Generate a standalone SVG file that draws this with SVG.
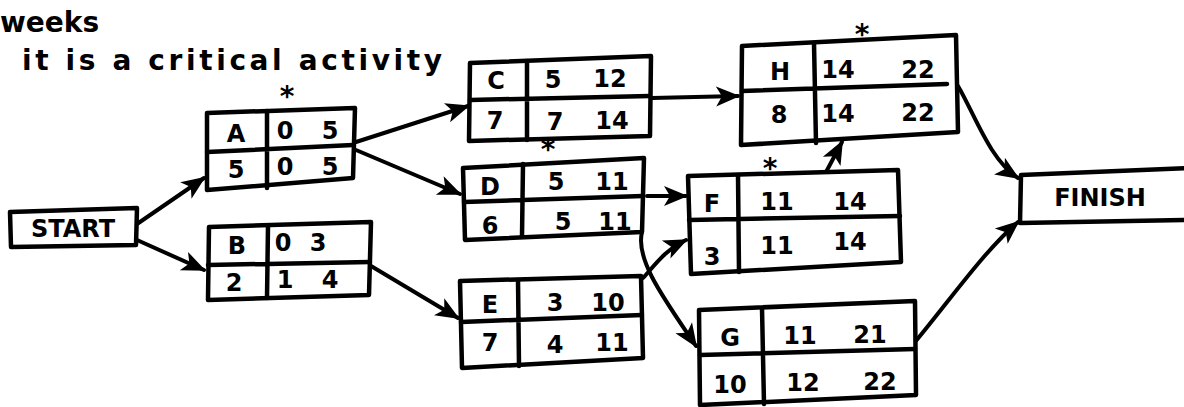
<svg xmlns="http://www.w3.org/2000/svg" width="1184" height="407" viewBox="0 0 1184 407">
<style>
.box{fill:#fff;stroke:#000;stroke-width:4.5;stroke-linejoin:round}
.ln{fill:none;stroke:#000;stroke-width:4.5;stroke-linecap:round}
.edge{fill:none;stroke:#000;stroke-width:4;stroke-linecap:round}
text{font-family:"DejaVu Sans","Liberation Sans",sans-serif;font-weight:bold;fill:#000}
.t{font-size:24px;text-anchor:middle}
.note{font-size:28px}
.star{font-size:28px;text-anchor:middle}
</style>
<defs>
<marker id="ah" viewBox="0 0 12 10" refX="11" refY="5" markerWidth="6" markerHeight="6" orient="auto" markerUnits="strokeWidth">
<path d="M0,0 L12,5 L0,10 L3,5 Z" fill="#000"/>
</marker>
</defs>
<rect width="1184" height="407" fill="#fff"/>
<text class="note" x="0" y="32">weeks</text>
<text class="note" x="22" y="70" textLength="420" lengthAdjust="spacing">it is a critical activity</text>

<g id="connectors">
<path class="edge" d="M137,224 L204,178" marker-end="url(#ah)"/>
<path class="edge" d="M137,240 L204,270" marker-end="url(#ah)"/>
<path class="edge" d="M356,142 L468,106" marker-end="url(#ah)"/>
<path class="edge" d="M356,150 L460,194" marker-end="url(#ah)"/>
<path class="edge" d="M371,266 L458,318" marker-end="url(#ah)"/>
<path class="edge" d="M652,98 L738,96" marker-end="url(#ah)"/>
<path class="edge" d="M647,196 L686,196" marker-end="url(#ah)"/>
<path class="edge" d="M642,232 C635,260 665,300 696,346" marker-end="url(#ah)"/>
<path class="edge" d="M643,278 C655,265 665,250 686,240" marker-end="url(#ah)"/>
<path class="edge" d="M825,174 L842,142" marker-end="url(#ah)"/>
<path class="edge" d="M958,86 C975,115 990,160 1018,178" marker-end="url(#ah)"/>
<path class="edge" d="M915,342 C950,300 985,250 1018,222" marker-end="url(#ah)"/>
</g>

<g id="start">
<path class="box" d="M10,212 L137,208 L136,245 L11,247 Z"/>
<text class="t" x="73" y="237">START</text>
</g>

<g id="A">
<path class="box" d="M207,113 L355,108 L353,178 L207,190 Z"/>
<path class="ln" d="M267,111 L267,188 M207,152 L353,145"/>
<text class="star" x="287" y="106">*</text>
<text class="t" x="236" y="142">A</text>
<text class="t" x="285" y="139">0</text>
<text class="t" x="330" y="139">5</text>
<text class="t" x="236" y="178">5</text>
<text class="t" x="285" y="175">0</text>
<text class="t" x="330" y="175">5</text>
</g>

<g id="B">
<path class="box" d="M209,227 L371,222 L369,295 L208,300 Z"/>
<path class="ln" d="M268,226 L267,298 M208,265 L370,262"/>
<text class="t" x="237" y="254">B</text>
<text class="t" x="283" y="251">0</text>
<text class="t" x="318" y="251">3</text>
<text class="t" x="234" y="291">2</text>
<text class="t" x="285" y="288">1</text>
<text class="t" x="330" y="288">4</text>
</g>

<g id="C">
<path class="box" d="M470,63 L651,56 L650,136 L469,141 Z"/>
<path class="ln" d="M527,61 L527,140 M470,100 L650,96"/>
<text class="t" x="496" y="89">C</text>
<text class="t" x="553" y="88">5</text>
<text class="t" x="610" y="87">12</text>
<text class="t" x="495" y="129">7</text>
<text class="t" x="555" y="130">7</text>
<text class="t" x="612" y="129">14</text>
</g>

<g id="D">
<path class="box" d="M463,168 L644,158 L642,232 L465,240 Z"/>
<path class="ln" d="M523,164 L522,236 M464,202 L643,196"/>
<text class="star" x="548" y="159">*</text>
<text class="t" x="490" y="195">D</text>
<text class="t" x="556" y="190">5</text>
<text class="t" x="612" y="190">11</text>
<text class="t" x="490" y="234">6</text>
<text class="t" x="563" y="230">5</text>
<text class="t" x="615" y="230">11</text>
</g>

<g id="E">
<path class="box" d="M460,281 L641,276 L643,358 L462,368 Z"/>
<path class="ln" d="M518,280 L519,366 M461,322 L642,315"/>
<text class="t" x="490" y="313">E</text>
<text class="t" x="555" y="311">3</text>
<text class="t" x="608" y="311">10</text>
<text class="t" x="490" y="351">7</text>
<text class="t" x="555" y="353">4</text>
<text class="t" x="612" y="351">11</text>
</g>

<g id="H">
<path class="box" d="M742,46 L956,35 L958,132 L741,145 Z"/>
<path class="ln" d="M814,43 L816,143 M742,91 L947,84"/>
<text class="star" x="862" y="44">*</text>
<text class="t" x="780" y="80">H</text>
<text class="t" x="838" y="78">14</text>
<text class="t" x="918" y="78">22</text>
<text class="t" x="779" y="123">8</text>
<text class="t" x="838" y="122">14</text>
<text class="t" x="918" y="121">22</text>
</g>

<g id="F">
<path class="box" d="M688,176 L898,170 L901,262 L691,274 Z"/>
<path class="ln" d="M738,175 L739,272 M689,220 L900,216"/>
<text class="star" x="770" y="178">*</text>
<text class="t" x="712" y="212">F</text>
<text class="t" x="777" y="210">11</text>
<text class="t" x="850" y="210">14</text>
<text class="t" x="712" y="265">3</text>
<text class="t" x="777" y="254">11</text>
<text class="t" x="850" y="250">14</text>
</g>

<g id="G">
<path class="box" d="M699,310 L915,301 L916,395 L700,405 Z"/>
<path class="ln" d="M762,308 L764,404 M700,355 L915,349"/>
<text class="t" x="730" y="346">G</text>
<text class="t" x="800" y="344">11</text>
<text class="t" x="870" y="343">21</text>
<text class="t" x="730" y="393">10</text>
<text class="t" x="803" y="391">12</text>
<text class="t" x="880" y="390">22</text>
</g>

<g id="finish">
<path class="box" d="M1190,168 L1021,175 L1020,223 L1190,220"/>
<text class="t" x="1100" y="206">FINISH</text>
</g>
</svg>
